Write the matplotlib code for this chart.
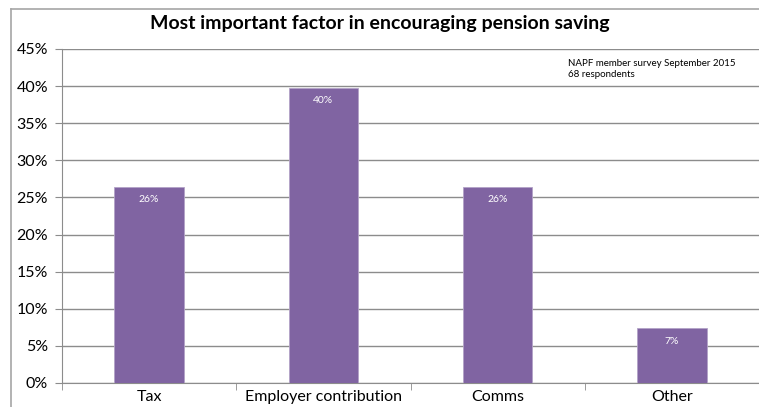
import matplotlib
matplotlib.use("Agg")
import matplotlib.pyplot as plt
from matplotlib.lines import Line2D
from matplotlib.ticker import PercentFormatter

plt.rcParams["font.family"] = ["Lato", "DejaVu Sans"]

categories = ["Tax", "Employer contribution", "Comms", "Other"]
shares = [0.2647, 0.3971, 0.2647, 0.0735]
y_ticks = [0, 0.05, 0.10, 0.15, 0.20, 0.25, 0.30, 0.35, 0.40, 0.45]

bar_color = "#8064A2"
grid_color = "#8C8C8C"

fig = plt.figure(figsize=(7.59, 4.07), dpi=100)

# chart frame: only the top and left edges sit inside the image
fx, fy = 11 / 759, 1 - 9 / 407
fig.add_artist(Line2D([fx, 1.0], [fy, fy], transform=fig.transFigure,
                      color="#A6A6A6", linewidth=1.2))
fig.add_artist(Line2D([fx, fx], [0.0, fy], transform=fig.transFigure,
                      color="#A6A6A6", linewidth=1.2))

ax = fig.add_axes([62 / 759, 1 - 383 / 407, 1 - 62 / 759, (383 - 49) / 407])

x = range(len(categories))
bars = ax.bar(x, shares, width=0.4, color=bar_color, edgecolor="#B3A2C7",
              linewidth=0.6, zorder=3)

for b, v in zip(bars, shares):
    ax.text(b.get_x() + b.get_width() / 2, v - 0.011, f"{v:.0%}",
            ha="center", va="top", color="white", fontsize=7.5, zorder=4)

ax.set_xlim(-0.5, len(categories) - 0.5)
ax.set_ylim(0, 0.45)
ax.set_yticks(y_ticks)
ax.yaxis.set_major_formatter(PercentFormatter(1.0, decimals=0))
ax.yaxis.grid(True, color=grid_color, linewidth=1.0, zorder=0)

ax.set_xticks(list(x))
ax.set_xticklabels(categories)
ax.set_xticks([i + 0.5 for i in range(-1, len(categories) - 1)], minor=True)
ax.tick_params(axis="x", which="major", length=0, pad=5, labelsize=11.5,
               colors="black")
ax.tick_params(axis="x", which="minor", length=5, color=grid_color)
ax.tick_params(axis="y", length=5, color=grid_color, labelsize=11.5, pad=5,
               labelcolor="black")

for side in ["top", "right"]:
    ax.spines[side].set_visible(False)
ax.spines["left"].set_color(grid_color)
ax.spines["bottom"].set_color(grid_color)

fig.text(0.5, 1 - 24 / 407, "Most important factor in encouraging pension saving",
         ha="center", va="center", fontsize=14, fontweight="bold")
fig.text(568 / 759, 1 - 59 / 407, "NAPF member survey September 2015\n68 respondents",
         ha="left", va="top", fontsize=7, linespacing=1.3)

fig.savefig("out.png", dpi=100)
